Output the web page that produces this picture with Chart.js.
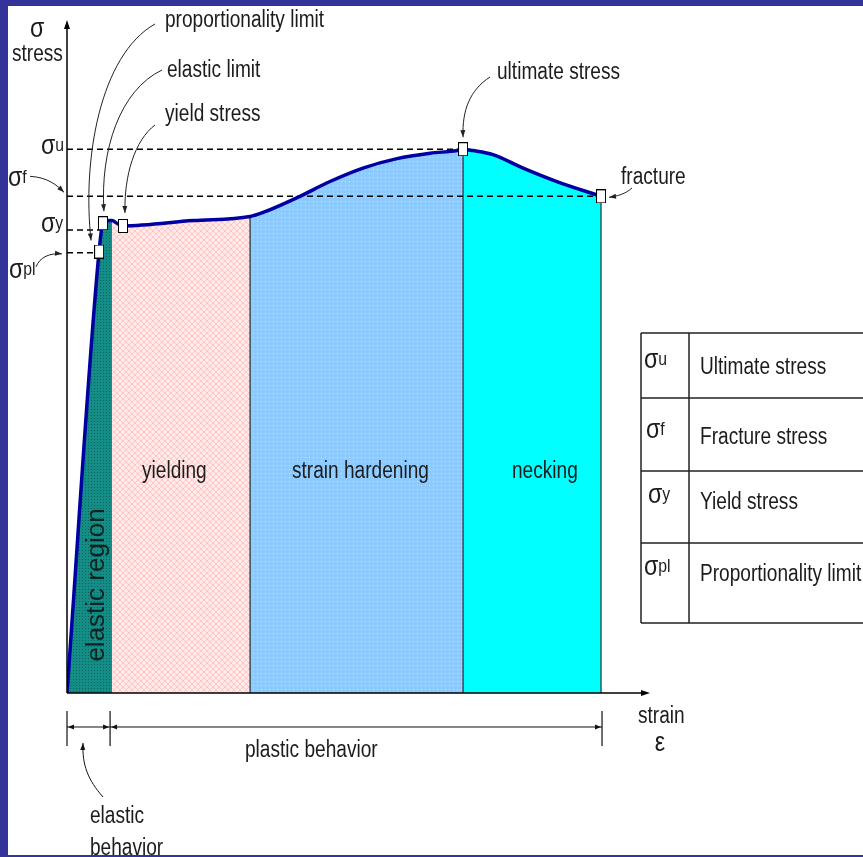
<!DOCTYPE html>
<html>
<head>
<meta charset="utf-8">
<title>Stress-strain diagram</title>
<script src="https://cdn.jsdelivr.net/npm/chart.js@4.4.0/dist/chart.umd.min.js"></script>
<style>
  body { margin: 0; background: #fff; }
  canvas { display: block; }
</style>
</head>
<body>
<canvas id="stressStrain" width="863" height="857"></canvas>
<script>
// engineering stress-strain curve of a ductile metal (stress in MPa)
var strain = [0, 0.0165, 0.0185, 0.0221, 0.0232, 0.0257, 0.0288, 0.0648, 0.0942, 0.1009, 0.1184,
  0.1353, 0.1523, 0.1698, 0.1868, 0.2007, 0.2038, 0.2089, 0.2192, 0.2347, 0.2521, 0.2748];
var stress = [0, 328, 349, 351, 351, 349, 347, 351, 354, 357, 368,
  380, 390, 397, 401, 403, 404, 403, 400, 390, 380, 369];

// region boundaries along the strain axis
var regionEdges = [0, 0.0232, 0.0942, 0.2038, 0.2748];
var regionNames = ["elastic region", "yielding", "strain hardening", "necking"];

// marked points on the curve
var pointNames = ["proportionality limit", "elastic limit", "yield stress", "ultimate stress", "fracture"];
var pointStrain = [0.0165, 0.0185, 0.0288, 0.2038, 0.2748];
var pointStress = [328, 349, 347, 404, 369];

// characteristic stress levels
var levelSymbols = ["u", "f", "y", "pl"];
var levelNames = ["Ultimate stress", "Fracture stress", "Yield stress", "Proportionality limit"];
var levelStress = [404, 369, 344, 327];
var levelEnds = [0.2038, 0.2748, 0.0170, 0.0155];

var SANS = '"Liberation Sans", Arial, sans-serif';
var SQUEEZE = 0.83; // no narrow face installed, so text is compressed by hand
var INK = "#1c1c1c";

var canvas = document.getElementById("stressStrain");
var ctx = canvas.getContext("2d");

function makePattern(size, base, dot, paint) {
  var c = document.createElement("canvas");
  c.width = size;
  c.height = size;
  var g = c.getContext("2d");
  g.fillStyle = base;
  g.fillRect(0, 0, size, size);
  g.fillStyle = dot;
  paint(g);
  return ctx.createPattern(c, "repeat");
}

var fills = [
  makePattern(3, "#138d86", "#09635e", function (g) { g.fillRect(1, 1, 1, 1); }),
  makePattern(6, "#ffe9e9", "#ffc6c6", function (g) {
    for (var i = 0; i < 6; i++) { g.fillRect(i, i, 1, 1); g.fillRect(5 - i, i, 1, 1); }
  }),
  makePattern(4, "#8ccaff", "#b6ecff", function (g) { g.fillRect(1, 1, 1, 1); }),
  "#00ffff"
];

// small white box used for the marked points
var markerImg = document.createElement("canvas");
markerImg.width = 10;
markerImg.height = 14;
(function () {
  var g = markerImg.getContext("2d");
  g.fillStyle = "#fff";
  g.fillRect(0, 0, 10, 14);
  g.strokeStyle = "#000";
  g.lineWidth = 1;
  g.strokeRect(0.5, 0.5, 9, 13);
})();

function curvePoints(from, to) {
  var pts = [];
  for (var i = 0; i < strain.length; i++) {
    if (strain[i] >= from && strain[i] <= to) pts.push({ x: strain[i], y: stress[i] });
  }
  return pts;
}

function stressAt(e) {
  return stress[strain.indexOf(e)];
}

var datasets = [];

datasets.push({
  data: pointStrain.map(function (e, i) { return { x: e, y: pointStress[i] }; }),
  showLine: false,
  pointStyle: markerImg,
  pointRadius: 5,
  order: 0
});

datasets.push({
  data: curvePoints(0, 1),
  borderColor: "#0000a0",
  borderWidth: 3.5,
  pointRadius: 0,
  cubicInterpolationMode: "monotone",
  order: 1
});

levelStress.forEach(function (s, i) {
  datasets.push({
    data: [{ x: 0, y: s }, { x: levelEnds[i], y: s }],
    borderColor: "#000",
    borderWidth: 1.5,
    borderDash: [6, 4],
    pointRadius: 0,
    order: 2
  });
});

regionEdges.slice(2).forEach(function (e) {
  datasets.push({
    data: [{ x: e, y: 0 }, { x: e, y: stressAt(e) }],
    borderColor: "#2a2a2a",
    borderWidth: 1.2,
    pointRadius: 0,
    order: 2
  });
});

for (var r = 0; r < regionNames.length; r++) {
  datasets.push({
    data: curvePoints(regionEdges[r], regionEdges[r + 1]),
    borderWidth: 0,
    pointRadius: 0,
    backgroundColor: fills[r],
    fill: "origin",
    cubicInterpolationMode: "monotone",
    order: 3
  });
}

function arrowHead(c, x, y, angle, len, half) {
  c.beginPath();
  c.moveTo(x, y);
  c.lineTo(x - len * Math.cos(angle) + half * Math.sin(angle), y - len * Math.sin(angle) - half * Math.cos(angle));
  c.lineTo(x - len * Math.cos(angle) - half * Math.sin(angle), y - len * Math.sin(angle) + half * Math.cos(angle));
  c.closePath();
  c.fill();
}

function curvedArrow(c, p0, c1, c2, p1) {
  c.beginPath();
  c.moveTo(p0[0], p0[1]);
  c.bezierCurveTo(c1[0], c1[1], c2[0], c2[1], p1[0], p1[1]);
  c.stroke();
  arrowHead(c, p1[0], p1[1], Math.atan2(p1[1] - c2[1], p1[0] - c2[0]), 7, 2.5);
}

// narrow-looking text: regular sans squeezed horizontally
function text(c, str, x, y, size, align) {
  c.save();
  c.translate(x, y);
  c.scale(SQUEEZE, 1);
  c.font = size + "px " + SANS;
  c.textAlign = align || "left";
  c.textBaseline = "alphabetic";
  c.fillText(str, 0, 0);
  var w = c.measureText(str).width * SQUEEZE;
  c.restore();
  return w;
}

function sigma(c, x, base, sub, size, subSize) {
  var w = text(c, "σ", x, base, size);
  text(c, sub, x + w, base - 3, subSize);
}

var sketch = {
  id: "sketch",
  beforeDraw: function (chart) {
    var c = chart.ctx;
    c.save();
    c.fillStyle = "#333399";
    c.fillRect(0, 0, chart.width, chart.height);
    c.fillStyle = "#fff";
    c.fillRect(8, 6, chart.width - 8, chart.height - 8);
    c.restore();
  },
  afterDatasetsDraw: function (chart) {
    var c = chart.ctx;
    var a = chart.chartArea;
    var xs = chart.scales.x;
    var ys = chart.scales.y;
    c.save();
    c.strokeStyle = "#000";
    c.fillStyle = "#000";

    // axes with arrow tips
    c.lineWidth = 1.5;
    c.beginPath();
    c.moveTo(a.left, a.bottom);
    c.lineTo(a.left, a.top + 4);
    c.moveTo(a.left, a.bottom);
    c.lineTo(a.right - 4, a.bottom);
    c.stroke();
    arrowHead(c, a.left, a.top, -Math.PI / 2, 9, 3);
    arrowHead(c, a.right, a.bottom, 0, 9, 3);

    c.fillStyle = INK;
    text(c, "σ", a.left - 37, 37, 28);
    text(c, "stress", a.left - 55, 61, 23);
    text(c, "strain", a.right - 12, a.bottom + 30, 23);
    text(c, "ε", a.right + 10, a.bottom + 58, 28, "center");

    // stress level symbols next to the vertical axis
    var lv = levelStress.map(function (s) { return ys.getPixelForValue(s); });
    sigma(c, 41, lv[0] + 5, "u", 28, 19);
    sigma(c, 8, lv[1] - 10, "f", 28, 19);
    sigma(c, 41, lv[2] + 2, "y", 28, 19);
    sigma(c, 9, lv[3] + 25, "pl", 28, 19);
    c.strokeStyle = "#222";
    c.fillStyle = "#222";
    c.lineWidth = 1;
    curvedArrow(c, [30, lv[1] - 20], [48, lv[1] - 19], [57, lv[1] - 11], [a.left - 3, lv[1] - 4]);
    curvedArrow(c, [36, lv[3] + 14], [40, lv[3] + 4], [50, lv[3]], [a.left - 5, lv[3] + 1]);

    // callouts for the marked points
    var px = pointStrain.map(function (e) { return xs.getPixelForValue(e); });
    var py = pointStress.map(function (s) { return ys.getPixelForValue(s); });
    curvedArrow(c, [155, 24], [100, 55], [82, 160], [px[0] - 8, py[0] - 11]);
    curvedArrow(c, [162, 70], [120, 90], [100, 150], [px[1] + 1, py[1] - 12]);
    curvedArrow(c, [155, 125], [135, 140], [124, 175], [px[2] + 2, py[2] - 13]);
    curvedArrow(c, [490, 77], [470, 90], [462, 110], [px[3], py[3] - 12]);
    curvedArrow(c, [632, 188], [625, 194], [618, 196], [px[4] + 8, py[4] + 1]);

    c.fillStyle = INK;
    text(c, pointNames[0], 165, 27, 23);
    text(c, pointNames[1], 167, 77, 23);
    text(c, pointNames[2], 165, 121, 23);
    text(c, pointNames[3], 497, 79, 23);
    text(c, pointNames[4], 621, 184, 23);

    // region names
    text(c, regionNames[1], 142, 478, 23);
    text(c, regionNames[2], 292, 478, 23);
    text(c, regionNames[3], 512, 478, 23);
    c.save();
    c.translate(97, 585);
    c.rotate(-Math.PI / 2);
    c.fillStyle = "#0a2422";
    c.font = "26px " + SANS;
    c.textAlign = "center";
    c.textBaseline = "middle";
    c.fillText(regionNames[0], 0, 0);
    c.restore();

    // elastic / plastic behaviour brackets under the axis
    var bx0 = xs.getPixelForValue(regionEdges[0]);
    var bx1 = xs.getPixelForValue(regionEdges[1]) - 2;
    var bx2 = xs.getPixelForValue(regionEdges[4]) + 1;
    var by = a.bottom + 34;
    c.strokeStyle = "#111";
    c.fillStyle = "#111";
    c.lineWidth = 1.2;
    c.beginPath();
    [bx0, bx1, bx2].forEach(function (x) { c.moveTo(x, by - 16); c.lineTo(x, by + 19); });
    c.moveTo(bx0, by);
    c.lineTo(bx2, by);
    c.stroke();
    arrowHead(c, bx0 + 1, by, Math.PI, 6, 2.5);
    arrowHead(c, bx1 - 1, by, 0, 6, 2.5);
    arrowHead(c, bx1 + 1, by, Math.PI, 6, 2.5);
    arrowHead(c, bx2 - 1, by, 0, 6, 2.5);
    c.lineWidth = 1;
    curvedArrow(c, [103, 797], [88, 780], [82, 765], [83, by + 16]);
    c.fillStyle = INK;
    text(c, "plastic behavior", 245, 757, 23);
    text(c, "elastic", 90, 823, 23);
    text(c, "behavior", 90, 855, 23);

    // symbol table
    var tx = 641, tDiv = 689, rows = [333, 398, 471, 543, 623];
    c.strokeStyle = "#222";
    c.lineWidth = 1.5;
    c.beginPath();
    rows.forEach(function (y) { c.moveTo(tx, y); c.lineTo(chart.width + 2, y); });
    c.moveTo(tx, rows[0]);
    c.lineTo(tx, rows[4]);
    c.moveTo(tDiv, rows[0]);
    c.lineTo(tDiv, rows[4]);
    c.stroke();
    var textMid = [366, 436, 501, 573];
    var symX = [644, 646, 648, 644];
    c.fillStyle = INK;
    levelSymbols.forEach(function (s, i) {
      sigma(c, symX[i], textMid[i] + 2, s, 28, 19);
      text(c, levelNames[i], 700, textMid[i] + 8, 23);
    });
    c.restore();
  }
};

new Chart(ctx, {
  type: "line",
  data: { datasets: datasets },
  options: {
    responsive: false,
    animation: false,
    events: [],
    layout: { padding: { left: 67, top: 20, right: 213, bottom: 164 } },
    scales: {
      x: { type: "linear", min: 0, max: 0.30, display: false },
      y: { type: "linear", min: 0, max: 500, display: false }
    },
    plugins: {
      legend: { display: false },
      tooltip: { enabled: false }
    }
  },
  plugins: [sketch]
});
</script>
</body>
</html>
